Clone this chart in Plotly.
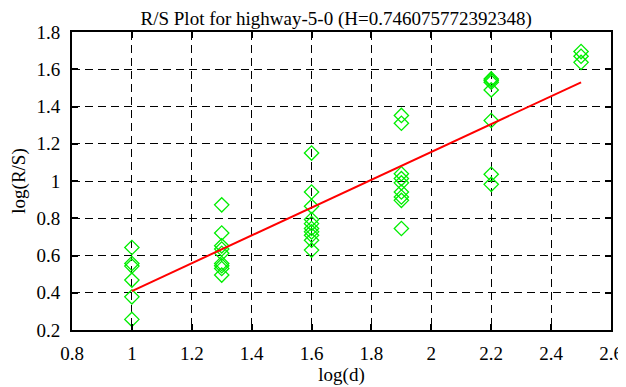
import plotly.graph_objects as go

# data
x_1 = [1.0] * 6
y_1 = [0.643, 0.557, 0.543, 0.468, 0.378, 0.257]
x_13 = [1.3] * 9
y_13 = [0.872, 0.721, 0.652, 0.635, 0.612, 0.557, 0.545, 0.530, 0.495]
x_16 = [1.6] * 10
y_16 = [1.150, 0.941, 0.864, 0.793, 0.771, 0.745, 0.727, 0.709, 0.682, 0.629]
x_19 = [1.9] * 9
y_19 = [1.352, 1.310, 1.039, 1.013, 0.990, 0.941, 0.914, 0.896, 0.745]
x_22 = [2.2] * 7
y_22 = [1.548, 1.540, 1.530, 1.489, 1.325, 1.036, 0.982]
x_25 = [2.5] * 3
y_25 = [1.695, 1.670, 1.637]

fit_x = [1.0, 2.5]
fit_y = [0.409, 1.530]

title = "R/S Plot for highway-5-0 (H=0.746075772392348)"

xs = x_1 + x_13 + x_16 + x_19 + x_22 + x_25
ys = y_1 + y_13 + y_16 + y_19 + y_22 + y_25

font = "Liberation Serif"
fs = 19

fig = go.Figure()
fig.add_trace(go.Scatter(
    x=xs, y=ys, mode="markers",
    marker=dict(symbol="diamond-open", size=11, color="#00ee00",
                line=dict(width=1.3, color="#00ee00")),
    showlegend=False))
fig.add_trace(go.Scatter(
    x=fit_x, y=fit_y, mode="lines",
    line=dict(color="#ff0000", width=2), showlegend=False))

axis_common = dict(
    showline=True, linecolor="black", linewidth=2, mirror="ticks",
    ticks="inside", ticklen=6, tickcolor="black", tickwidth=1.5,
    showgrid=True, gridcolor="black", griddash="8px,5px", gridwidth=1,
    zeroline=False, automargin=False,
    tickfont=dict(family=font, size=fs, color="black"),
)

# page body has an 8px default margin, so the figure is sized to fit the window
fig.update_layout(
    width=618, height=379,
    margin=dict(l=64, r=15, t=24, b=57, autoexpand=False),
    paper_bgcolor="white", plot_bgcolor="white",
    font=dict(family=font, size=fs, color="black"),
    title=dict(text=title, x=0.531, xanchor="center", y=0.99, yanchor="top",
               automargin=False, pad=dict(t=0, b=0),
               font=dict(family=font, size=fs, color="black")),
    xaxis=dict(range=[0.8, 2.6], dtick=0.2, tick0=0.8, ticklabelstandoff=5,
               title=dict(text="log(d)", standoff=4,
                          font=dict(family=font, size=fs)),
               **axis_common),
    yaxis=dict(range=[0.2, 1.8], dtick=0.2, tick0=0.2, ticklabelstandoff=6,
               title=dict(text="log(R/S)", standoff=12,
                          font=dict(family=font, size=fs)),
               **axis_common),
)

fig.write_html("out.html")
